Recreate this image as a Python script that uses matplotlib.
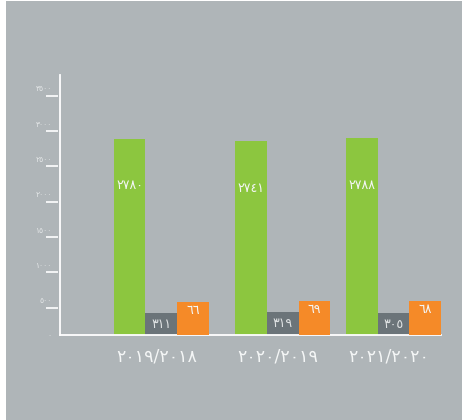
import matplotlib.pyplot as plt
import matplotlib.patches as mpatches
from matplotlib.transforms import offset_copy
import numpy as np

plt.rcParams['font.family'] = ['DejaVu Sans']

# data
years = ['٢٠١٩/٢٠١٨', '٢٠٢٠/٢٠١٩', '٢٠٢١/٢٠٢٠']
green_vals = [2780, 2741, 2788]
gray_vals = [311, 319, 305]
orange_vals = [66, 69, 68]
green_txt = ['٢٧٨٠', '٢٧٤١', '٢٧٨٨']
gray_txt = ['٣١١', '٣١٩', '٣٠٥']
orange_txt = ['٦٦', '٦٩', '٦٨']
y_ticks = [0, 500, 1000, 1500, 2000, 2500, 3000, 3500]
y_tick_txt = ['٠', '٥٠٠', '١٠٠٠', '١٥٠٠', '٢٠٠٠', '٢٥٠٠', '٣٠٠٠', '٣٥٠٠']

bg = '#afb5b8'
c_green = '#8cc63f'
c_gray = '#6b7479'
c_orange = '#f58a28'
c_text = '#f4f6f6'

fig = plt.figure(figsize=(4.62, 4.2), dpi=100, facecolor='white')
fig.patches.append(mpatches.Rectangle((6 / 462, 0), 456 / 462, 419 / 420,
                                      transform=fig.transFigure,
                                      facecolor=bg, edgecolor='none', zorder=-10))

ax = fig.add_axes([60 / 462, 85 / 420, 381 / 462, 260 / 420])
ax.patch.set_alpha(0)
ax2 = ax.twinx()
ax2.set_position(ax.get_position())

x = np.array([3.2, 7.05, 10.55])  # group centres (gray bar)
w = 1.0

ax.bar(x - w, green_vals, w, color=c_green, zorder=2)
ax.bar(x, gray_vals, w, color=c_gray, zorder=2)
ax2.bar(x + w, orange_vals, w, color=c_orange, zorder=2)

ax.set_xlim(0, 12.05)
ax2.set_xlim(0, 12.05)
ax.set_ylim(0, 3680)
ax2.set_ylim(0, 520)
ax2.axis('off')

for i in range(3):
    ax.annotate(green_txt[i], (x[i] - w, green_vals[i]), xytext=(0, -47),
                textcoords='offset pixels', ha='center', va='center',
                color=c_text, fontsize=9)
    ax.text(x[i], gray_vals[i] / 2, gray_txt[i], ha='center', va='center',
            color='#dfe2e3', fontsize=9)
    ax2.annotate(orange_txt[i], (x[i] + w, orange_vals[i]), xytext=(0, -9),
                 textcoords='offset pixels', ha='center', va='center',
                 color=c_text, fontsize=9)

for s in ['top', 'right']:
    ax.spines[s].set_visible(False)
for s in ['left', 'bottom']:
    ax.spines[s].set_color('white')
    ax.spines[s].set_linewidth(1.3)

ax.set_yticks(y_ticks)
ax.set_yticklabels(y_tick_txt, fontsize=5.5, color='#e4e7e8')
ax.tick_params(axis='y', length=0, pad=6)
# short marks sitting just below each value label
tr = offset_copy(ax.get_yaxis_transform(), fig=fig, x=0, y=-8, units='dots')
for v in y_ticks[1:]:
    ax.plot([-0.037, -0.004], [v, v], color='white', lw=1.2,
            transform=tr, clip_on=False, solid_capstyle='butt')

ax.set_xticks(x - 0.15)
ax.set_xticklabels(years, fontsize=12.5, color=c_text)
ax.tick_params(axis='x', length=0, pad=9)

fig.savefig('out.png', dpi=100, facecolor='white')
